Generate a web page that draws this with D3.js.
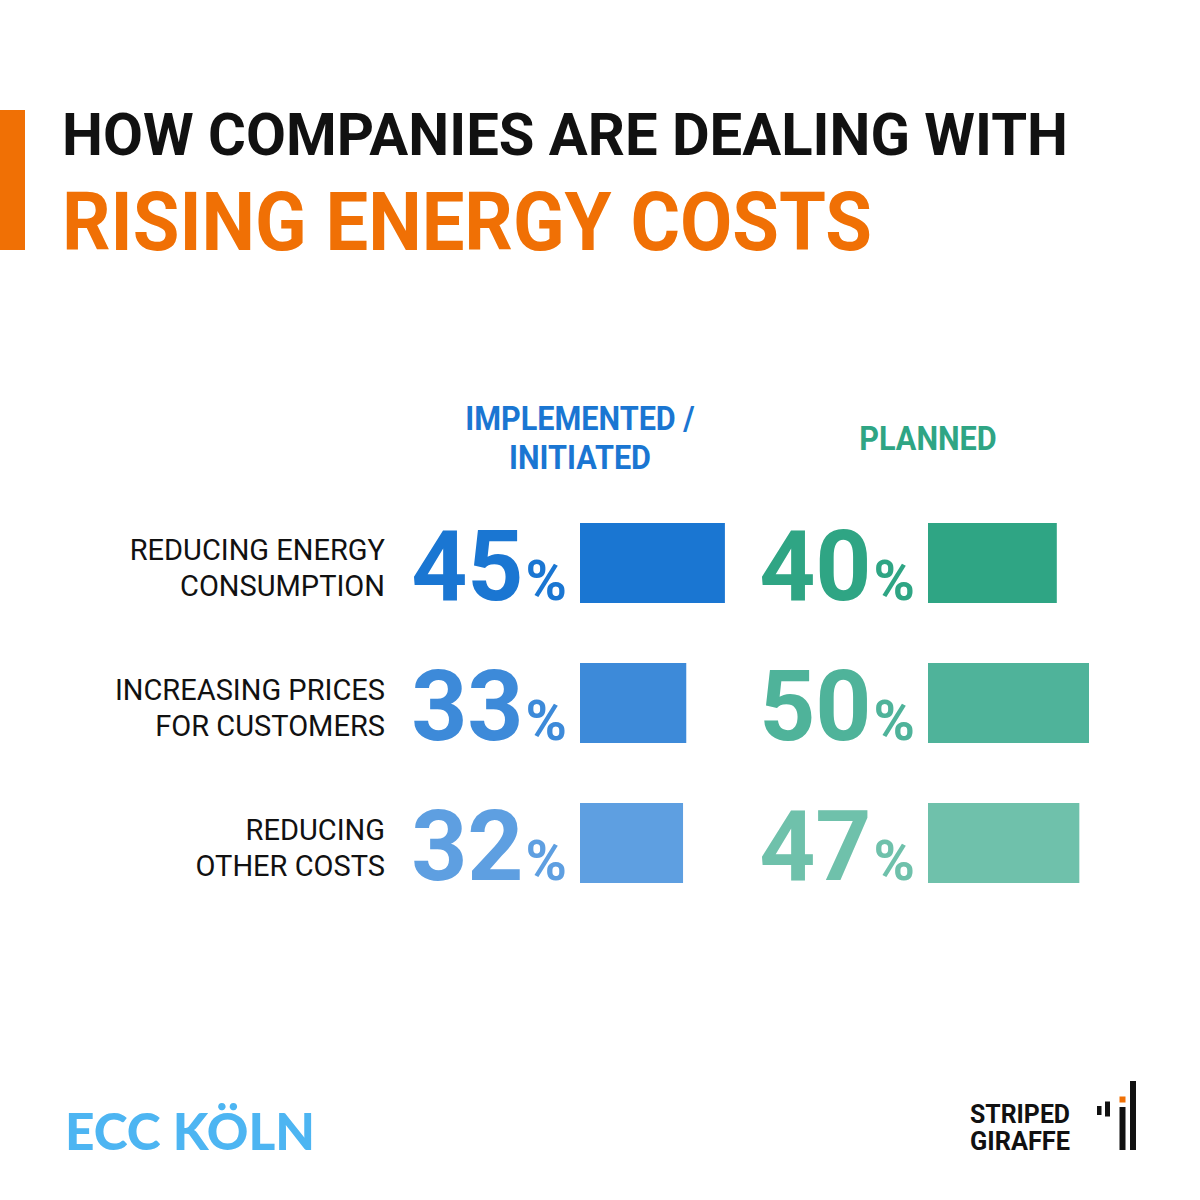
<!DOCTYPE html>
<html><head><meta charset="utf-8">
<script src="https://cdn.jsdelivr.net/npm/d3@7"></script>
<style>body{margin:0;background:#fff}svg{display:block}</style>
</head><body>
<script>
const categories = [["REDUCING ENERGY","CONSUMPTION"],["INCREASING PRICES","FOR CUSTOMERS"],["REDUCING","OTHER COSTS"]];
const seriesNames = [["IMPLEMENTED /","INITIATED"],["PLANNED"]];
const implemented = [45, 33, 32];
const planned = [40, 50, 47];
const blueShades = ["#1a76d2","#3d8ad9","#5e9fe1"];
const greenShades = ["#2fa584","#4fb39a","#6fc1ab"];

const W = 1200, H = 1200;
const svg = d3.select("body").append("svg").attr("width", W).attr("height", H);
const F = "Roboto, 'DejaVu Sans', sans-serif";

function fitWidth(sel, target){
  sel.attr("textLength", target).attr("lengthAdjust","spacingAndGlyphs");
}
function squeeze(sel, k){
  const w = sel.node().getComputedTextLength();
  sel.attr("textLength", w*k).attr("lengthAdjust","spacingAndGlyphs");
}

// Title
svg.append("rect").attr("x",0).attr("y",110).attr("width",25).attr("height",140).attr("fill","#f07005");
const t1 = svg.append("text").attr("x",62).attr("y",155).attr("font-family",F).attr("font-weight",700)
  .attr("font-size",60).attr("fill","#111").text("HOW COMPANIES ARE DEALING WITH");
fitWidth(t1, 1006);
const t2 = svg.append("text").attr("x",62).attr("y",250).attr("font-family",F).attr("font-weight",700)
  .attr("font-size",82).attr("fill","#f07005").text("RISING ENERGY COSTS");
fitWidth(t2, 810);

// Scales
const x = d3.scaleLinear().domain([0,100]).range([0,322]);
const y = d3.scaleBand().domain(d3.range(categories.length)).range([523, 883]).paddingInner(60/140).paddingOuter(0);
const cols = [{x0:580, values:implemented, colors:blueShades, head:seriesNames[0], hc:"#1a76d2"},
              {x0:928, values:planned, colors:greenShades, head:seriesNames[1], hc:"#2fa584"}];

// Headers
cols.forEach(c=>{
  const lines = c.head;
  const baseY = lines.length === 2 ? 430 : 450;
  lines.forEach((l,i)=>{
    const t = svg.append("text").attr("x",c.x0).attr("y",baseY + i*39).attr("text-anchor","middle")
      .attr("font-family",F).attr("font-weight",700).attr("font-size",34).attr("fill",c.hc).text(l);
    squeeze(t, 0.9);
  });
});

// Row labels
categories.forEach((cat,i)=>{
  const yc = y(i) + y.bandwidth()/2;
  cat.forEach((l,j)=>{
    svg.append("text").attr("x",385).attr("y", yc + (j===0 ? -3 : 33)).attr("text-anchor","end")
      .attr("font-family",F).attr("font-weight",400).attr("font-size",29).attr("fill","#111").text(l);
  });
});

// Bars and values
cols.forEach(c=>{
  const g = svg.append("g");
  g.selectAll("rect").data(c.values).join("rect")
    .attr("x", c.x0).attr("y",(d,i)=>y(i)).attr("width", d=>x(d)).attr("height", y.bandwidth())
    .attr("fill",(d,i)=>c.colors[i]);
  const tx = g.selectAll("text.val").data(c.values).join("text").attr("class","val")
    .attr("x", c.x0 - 13).attr("y",(d,i)=>y(i)+77).attr("text-anchor","end")
    .attr("font-family",F).attr("font-weight",700).attr("fill",(d,i)=>c.colors[i]);
  tx.append("tspan").attr("font-size",98).text(d=>d);
  tx.append("tspan").attr("font-size",56).attr("dx",2).text("%");
});

// ECC KÖLN logo
svg.append("text").attr("x",65).attr("y",1150).attr("font-family","Lato, Roboto, sans-serif").attr("font-weight",900)
  .attr("font-size",51).attr("fill","#4db5f2").attr("textLength",250).attr("lengthAdjust","spacingAndGlyphs").text("ECC KÖLN");

// Striped Giraffe logo
["STRIPED","GIRAFFE"].forEach((l,i)=>{
  svg.append("text").attr("x",970).attr("y",1123 + i*27).attr("font-family",F).attr("font-weight",700)
    .attr("font-size",25).attr("fill","#111").attr("textLength",100).attr("lengthAdjust","spacingAndGlyphs").text(l);
});
const logoRects = [[1097,1106,4.5,9,"#111"],[1105,1101.5,5,15,"#111"],[1119.5,1096.5,6,6,"#f07005"],[1119.5,1107,6,43,"#111"],[1130,1081,6,69,"#111"]];
svg.selectAll("rect.logo").data(logoRects).join("rect").attr("class","logo")
  .attr("x",d=>d[0]).attr("y",d=>d[1]).attr("width",d=>d[2]).attr("height",d=>d[3]).attr("fill",d=>d[4]);
</script>
</body></html>
